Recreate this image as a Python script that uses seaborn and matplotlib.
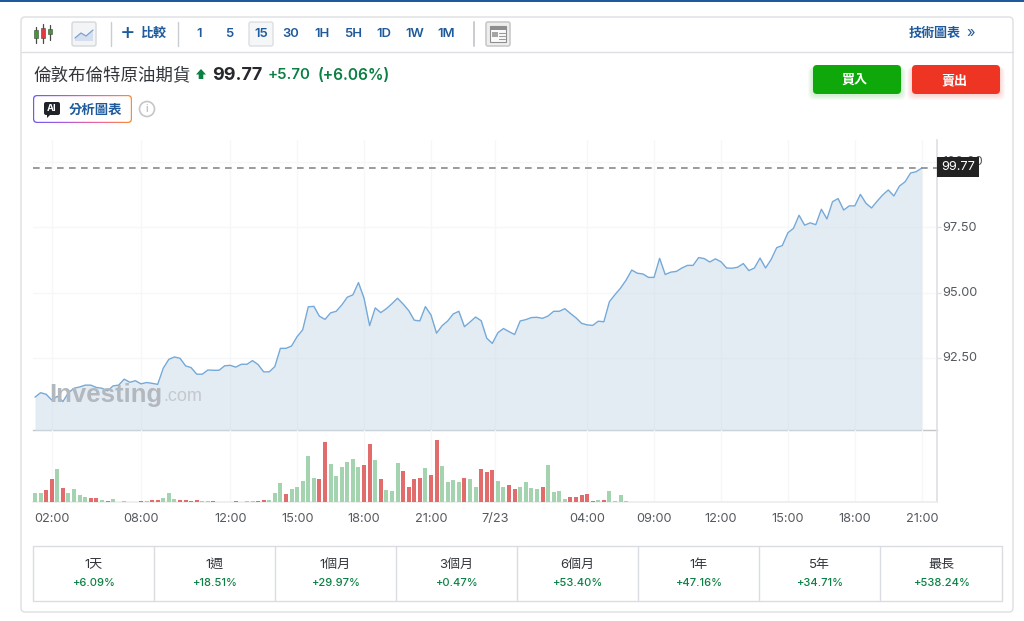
import numpy as np
import pandas as pd
import matplotlib
matplotlib.use("Agg")
import matplotlib.pyplot as plt
from matplotlib.patches import FancyBboxPatch, Rectangle, Circle, Polygon
from matplotlib.transforms import Bbox, ScaledTranslation
import seaborn as sns

price = [
 90.99,91.16,91.10,90.88,91.02,90.82,91.16,91.33,91.38,91.45,
 91.45,91.36,91.33,91.23,91.42,91.45,91.68,91.56,91.62,91.50,
 91.55,91.52,91.48,92.10,92.44,92.53,92.48,92.19,92.12,91.87,
 91.87,92.03,92.02,92.02,92.19,92.21,92.14,92.25,92.25,92.39,
 92.24,91.96,91.96,92.16,92.86,92.86,92.95,93.31,93.57,94.45,
 94.47,94.09,93.97,94.22,94.28,94.52,
 94.82,94.91,95.38,94.78,93.73,94.41,94.23,94.38,94.57,94.78,
 94.56,94.31,93.94,93.91,94.46,94.14,93.44,93.73,93.91,94.18,
 94.28,93.69,93.87,94.06,93.92,93.25,93.05,93.46,93.62,93.50,
 93.39,93.91,93.96,94.04,94.05,94.01,94.10,94.28,94.28,94.38,
 94.20,94.03,93.82,93.76,93.74,93.90,93.88,94.65,94.92,95.17,
 95.48,95.86,95.74,95.71,95.58,
 95.58,96.31,95.69,95.78,95.81,95.94,96.04,96.04,96.34,96.30,
 96.17,96.29,96.18,95.94,95.93,95.97,96.11,95.84,95.94,96.32,
 95.94,96.27,96.72,96.80,97.29,97.46,97.96,97.58,97.67,97.60,
 98.19,97.82,98.48,98.60,98.16,98.32,98.32,98.76,98.42,98.24,
 98.50,98.74,98.93,98.70,99.08,99.24,99.58,99.63,99.77,
]
volume = [
 26,26,35,68,98,41,26,38,19,15,11,11,5,3,8,0,2,0,0,2,
 2,5,5,11,26,8,5,5,3,5,2,2,2,0,0,0,2,0,2,2,
 2,5,5,26,56,23,38,44,62,137,71,68,178,112,78,105,
 118,128,105,111,174,125,68,35,32,115,92,45,68,71,101,81,185,107,59,65,
 59,71,68,45,98,89,95,62,45,49,38,45,59,42,38,45,111,29,32,8,
 15,15,19,23,2,5,5,32,2,19,2,
] + [0] * 53
volume_dir = (
 "g g r r g r g g g g r r g r g g g g g r g r r g g g r r r r g g r g g g r g g g "
 "r r g g g r g g g g g r r g g g "
 "g g g r r g r g g g r r r r g r r g g g g r g g r r r g g r r g g g g r g g g g "
 "r r r r r g r g g g g"
).split() + ["g"] * 53

x_ticks = [3, 19, 35, 47, 59, 71, 82.5, 99, 111, 123, 135, 147, 159]
x_labels = ["02:00", "08:00", "12:00", "15:00", "18:00", "21:00", "7/23",
            "04:00", "09:00", "12:00", "15:00", "18:00", "21:00"]
y_ticks = [92.5, 95.0, 97.5, 100.0]
y_labels = ["92.50", "95.00", "97.50", "100.00"]
last_price = 99.77
periods = ["1天", "1週", "1個月", "3個月", "6個月", "1年", "5年", "最長"]
changes = ["+6.09%", "+18.51%", "+29.97%", "+0.47%", "+53.40%", "+47.16%", "+34.71%", "+538.24%"]
intervals = ["1", "5", "15", "30", "1H", "5H", "1D", "1W", "1M"]

sns.set_theme(style="white")
plt.rcParams["font.family"] = ["Inter", "Noto Sans CJK TC", "DejaVu Sans"]
BLUE, GREEN, INK = "#1f5a9c", "#0a8043", "#2a2e33"
W, H = 1024, 621
fig = plt.figure(figsize=(W / 100, H / 100), dpi=100, facecolor="white")

# page chrome, in pixel coordinates
ui = fig.add_axes([0, 0, 1, 1], zorder=0)
ui.set_xlim(0, W); ui.set_ylim(H, 0); ui.axis("off")

def box(x0, y0, x1, y1, fc="none", ec="none", r=0, lw=1, alpha=None, z=1):
    p = FancyBboxPatch((x0 + r, y0 + r), x1 - x0 - 2 * r, y1 - y0 - 2 * r,
                       boxstyle=f"round,pad={r},rounding_size={r}" if r else "square,pad=0",
                       fc=fc, ec=ec, lw=lw, alpha=alpha, zorder=z)
    ui.add_patch(p)
    return p

def label(x, y, s, size=9, color=INK, weight="normal", ha="center", **kw):
    return ui.text(x, y, s, fontsize=size, color=color, fontweight=weight, ha=ha, va="center", zorder=6, **kw)

ui.add_patch(Rectangle((0, 0), W, 2, fc=BLUE, ec="none"))
box(21, 17, 1013, 612, fc="white", ec="#dcdfe3", r=4, lw=1)
ui.plot([21, 1013], [51.5, 51.5], color="#dcdfe3", lw=1, zorder=2)
for xd in (110.5, 177.5):
    ui.plot([xd, xd], [22, 46], color="#c9ccd0", lw=1, zorder=2)
ui.plot([474, 474], [22, 46], color="#c9ccd0", lw=1.4, zorder=2)

# candlestick icon
for xc, y0, y1, yb0, yb1, c in [(36, 27, 43, 30, 38, "#3f9b2e"), (43, 24, 43, 28, 38, "#e0393e"), (49.5, 25, 40, 29, 34, "#3f9b2e")]:
    ui.plot([xc, xc], [y0, y1], color="#4a4a4a", lw=0.9, zorder=3)
    ui.add_patch(Rectangle((xc - 2, yb0), 4, yb1 - yb0, fc=c, ec="#444444", lw=0.4, zorder=4))
# area icon button
box(72, 22, 96, 46, fc="#f3f4f6", ec="#d6d8db", r=2)
ui.add_patch(Polygon([(75, 41), (75, 38), (81, 33), (86, 36), (93, 30), (93, 41)], fc="#d5dff0", ec="none", zorder=3))
ui.plot([75, 81, 86, 93], [38, 33, 36, 30], color="#7ba2cf", lw=0.9, zorder=4)
# compare
label(128, 33.5, "+", size=17, color=BLUE)
label(153, 34, "比較", size=9.4, color=BLUE, weight="bold")
# intervals
box(249, 22, 273, 46, fc="#f5f6f7", ec="#dcdee1", r=2)
for xc, s in zip([199, 229, 261, 291, 322, 353, 384, 415, 446], intervals):
    label(xc, 34, s, size=9.4, color=BLUE, weight="semibold")
# news icon
box(486, 22, 510, 46, fc="#eeeeee", ec="#c9c9c9", r=2, lw=1.2)
ui.add_patch(Rectangle((490, 26), 16, 16, fc="#fbfbfb", ec="#8e8e8e", lw=0.8, zorder=3))
ui.add_patch(Rectangle((490, 26), 16, 4, fc="#8e8e8e", ec="none", zorder=4))
ui.add_patch(Rectangle((491.5, 32), 6, 5, fc="#a5a5a5", ec="none", zorder=4))
for yy in (33, 36, 39):
    ui.plot([499, 505], [yy, yy], color="#9a9a9a", lw=0.8, zorder=4)
label(935, 34, "技術圖表", size=9.4, color=BLUE, weight="bold")
label(971, 33.5, "»", size=10.5, color=BLUE)

# title row
label(33, 75.5, "倫敦布倫特原油期貨", size=12.6, color="#33373c", ha="left")
ui.add_patch(Polygon([(201, 69), (206, 74.5), (203.3, 74.5), (203.3, 79), (198.7, 79), (198.7, 74.5), (196, 74.5)], fc=GREEN, ec="none", zorder=5))
label(212, 75, "99.77", size=13, weight="bold", ha="left", color="#25282c")
label(268, 75, "+5.70", size=10.8, color=GREEN, weight="semibold", ha="left")
label(318, 75, "(+6.06%)", size=11.2, color=GREEN, weight="semibold", ha="left")

# AI badge with gradient outline
clip = box(33, 95, 132, 123, fc="none", ec="none", r=4)
grad = np.linspace(0, 1, 256).reshape(1, -1)
cmap = matplotlib.colors.LinearSegmentedColormap.from_list("g", ["#6a5cf0", "#b05ad8", "#f0669a", "#f7902e"])
im = ui.imshow(grad, extent=(32, 133, 124, 94), cmap=cmap, aspect="auto", zorder=2)
im.set_clip_path(clip)
ui.set_xlim(0, W); ui.set_ylim(H, 0)
box(34.2, 96.2, 130.8, 121.8, fc="white", r=3.2, z=3)
box(44, 102, 60, 115, fc="#202428", r=2, z=4)
ui.add_patch(Polygon([(47, 114), (47, 118), (51, 114)], fc="#202428", ec="none", zorder=4))
label(52, 108.4, "AI", size=6.8, color="white", weight="bold")
label(95.5, 110.5, "分析圖表", size=9.6, color=BLUE, weight="bold")
ui.add_patch(Circle((147, 109), 7.5, fc="white", ec="#c4c6c9", lw=1.2, zorder=3))
label(147, 109, "i", size=7.5, color="#a8aaad")

# buy / sell
for i in range(5, 0, -1):
    box(813 - i, 65 + 2, 901 + i, 94 + i + 1, fc="#0fa80a", r=6, alpha=0.035)
    box(912 - i, 65 + 2, 1000 + i, 94 + i + 1, fc="#ee3524", r=6, alpha=0.035)
box(813, 65, 901, 94, fc="#0fa80a", r=4, z=3)
box(912, 65, 1000, 94, fc="#ee3524", r=4, z=3)
label(855, 81, "買入", size=9.4, color="white", weight="bold")
label(955, 81, "賣出", size=9.4, color="white", weight="bold")

# stats table
edges = [33, 154, 275, 396, 517, 638, 759, 880, 1002]
ui.add_patch(Rectangle((33, 546), 969, 54.5, fc="white", ec="#d9dce0", lw=1, zorder=2))
for e in edges[1:-1]:
    ui.plot([e, e], [546, 600.5], color="#d9dce0", lw=1, zorder=3)
for i, (p, c) in enumerate(zip(periods, changes)):
    xc = (edges[i] + edges[i + 1]) / 2
    label(xc, 565, p, size=9.4, color="#33373c")
    label(xc, 583.5, c, size=8, color=GREEN, weight="medium")

# chart panes
def pane(top, bottom, left=33, right=936.7):
    return fig.add_axes([left / W, 1 - bottom / H, (right - left) / W, (bottom - top) / H], zorder=3, facecolor="none")

idx = np.arange(len(price))
xlim = (-0.36, 161.68)
ax = pane(140, 429.5)
ax2 = pane(429.5, 501.7)
GRID = "#f6f7f8"

sns.lineplot(x=idx, y=price, ax=ax, color="#74a9d8", lw=1.0, zorder=4, errorbar=None)
ax.fill_between(idx, price, 80, color="#cfdeeb", alpha=0.58, lw=0, zorder=3)
ax.axhline(last_price, color="#8a8a8a", lw=1.2, ls=(0, (4, 3.2)), zorder=5)
ax.set_xlim(*xlim); ax.set_ylim(89.75, 100.845)
ax.set_xticks(x_ticks); ax.set_yticks(y_ticks, y_labels)
ax.yaxis.tick_right()
ax.tick_params(axis="x", length=0, labelbottom=False)
ax.tick_params(axis="y", length=3, width=1, color="#dfe1e5", labelsize=9.2, labelcolor="#555a60", pad=1)
up = ScaledTranslation(0, 1.2 / 100, fig.dpi_scale_trans)
for t in ax.get_yticklabels():
    t.set_transform(t.get_transform() + up)
ax.grid(True, color=GRID, lw=1); ax.set_axisbelow(True)
ax.set_xlabel(""); ax.set_ylabel("")
for s in ("top", "left"):
    ax.spines[s].set_visible(False)
ax.spines["right"].set_color("#dfe1e5")
ax.spines["bottom"].set_color("#c3c5c8"); ax.spines["bottom"].set_linewidth(1.0)

frame = pd.DataFrame({"i": idx, "vol": volume, "dir": volume_dir})
sns.barplot(data=frame, x="i", y="vol", hue="dir", native_scale=True, dodge=False, width=0.72, gap=0,
            palette={"g": "#a4d4af", "r": "#e26b6b"}, saturation=1, legend=False, linewidth=0, ax=ax2, zorder=3)
ax2.set_xlim(*xlim); ax2.set_ylim(0, 216)
ax2.set_xticks(x_ticks, x_labels); ax2.set_yticks([])
ax2.tick_params(axis="x", length=0, labelsize=9.2, labelcolor="#555a60", pad=7.8)
ax2.xaxis.grid(True, color=GRID, lw=1); ax2.set_axisbelow(True)
ax2.set_xlabel(""); ax2.set_ylabel("")
for s in ("top", "left"):
    ax2.spines[s].set_visible(False)
ax2.spines["right"].set_color("#dfe1e5")
ax2.spines["bottom"].set_color("#eceded")
clip_box = Bbox([[0, 0], [937.5, H]])
for t in ax2.get_xticklabels():
    t.set_clip_box(clip_box); t.set_clip_on(True)

# last price flag and watermark
over = fig.add_axes([0, 0, 1, 1], zorder=5, facecolor="none")
over.set_xlim(0, W); over.set_ylim(H, 0); over.axis("off")
over.add_patch(Rectangle((937, 157), 42, 20, fc="#222222", ec="none"))
over.text(958, 167, f"{last_price:.2f}", color="white", fontsize=9.2, ha="center", va="center")
over.text(49, 395, "Investing", color="#b3b8bf", fontsize=18.5, fontweight="bold", ha="left", va="center", family=["Liberation Sans"])
over.text(163.5, 396.5, ".com", color="#c5c9cd", fontsize=13, ha="left", va="center", family=["Liberation Sans"])

fig.savefig("out.png", dpi=100, facecolor="white")
